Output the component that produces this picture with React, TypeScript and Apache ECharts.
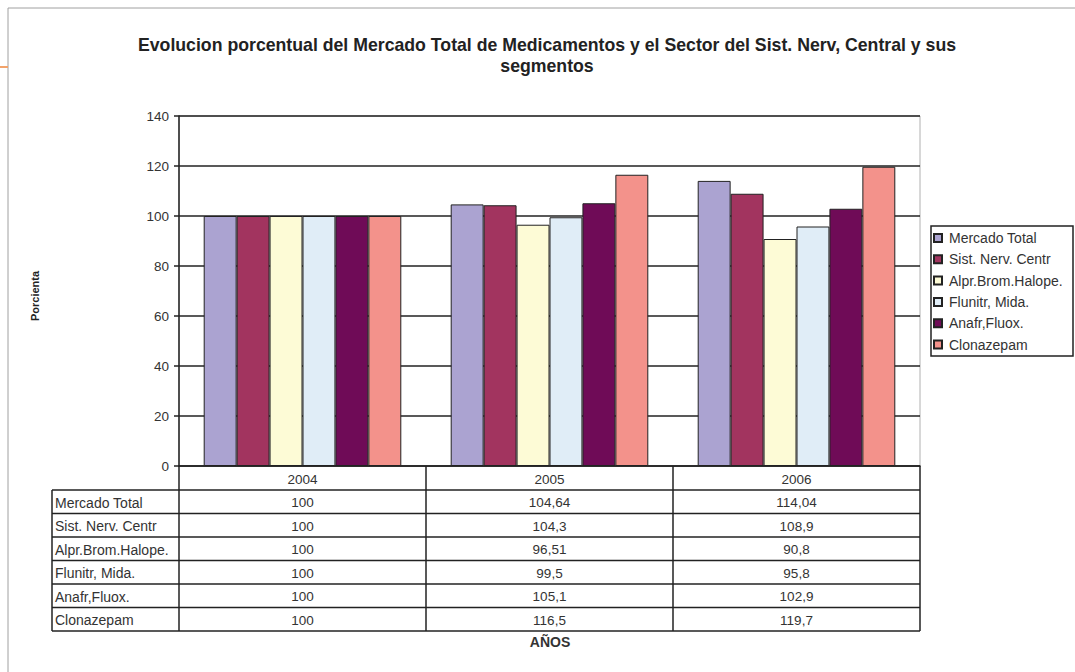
import React, { useEffect, useRef } from "react";
import * as echarts from "echarts";

const years = ["2004", "2005", "2006"];
const seriesNames = [
  "Mercado Total",
  "Sist. Nerv. Centr",
  "Alpr.Brom.Halope.",
  "Flunitr, Mida.",
  "Anafr,Fluox.",
  "Clonazepam",
];
const mercadoTotal = [100, 104.64, 114.04];
const sistNervCentr = [100, 104.3, 108.9];
const alprBromHalope = [100, 96.51, 90.8];
const flunitrMida = [100, 99.5, 95.8];
const anafrFluox = [100, 105.1, 102.9];
const clonazepam = [100, 116.5, 119.7];
const yTicks = [0, 20, 40, 60, 80, 100, 120, 140];

const seriesValues = [mercadoTotal, sistNervCentr, alprBromHalope, flunitrMida, anafrFluox, clonazepam];
const colors = ["#aba3d1", "#a2345f", "#fdfbd6", "#e0edf7", "#6f0b57", "#f3928b"];

const W = 1075;
const H = 672;
const gridLeft = 179;
const gridRight = 920;
const gridTop = 116;
const gridBottom = 466;
const tableLeft = 52;
const rowH = 23.5;
const headerBottom = 490;

const fmt = (v: number) => String(v).replace(".", ",");

export default function App() {
  const ref = useRef<HTMLDivElement>(null);

  useEffect(() => {
    const chart = echarts.init(ref.current!, null, { renderer: "svg" });
    const font = "Arial, 'Liberation Sans', sans-serif";
    const catW = (gridRight - gridLeft) / years.length;
    const tableBottom = headerBottom + rowH * seriesNames.length;
    const lineStyle = { stroke: "#222", lineWidth: 1.5 };

    const graphics: any[] = [];
    // page frame and accent
    graphics.push({ type: "line", shape: { x1: 8, y1: 8, x2: W, y2: 8 }, style: { stroke: "#a0a0a0", lineWidth: 1 } });
    graphics.push({ type: "line", shape: { x1: 8, y1: 8, x2: 8, y2: H }, style: { stroke: "#a0a0a0", lineWidth: 1 } });
    graphics.push({ type: "line", shape: { x1: 0, y1: 67, x2: 8, y2: 67 }, style: { stroke: "#f2a36b", lineWidth: 2 } });

    // y-axis name
    graphics.push({
      type: "text",
      x: 35,
      y: 296,
      rotation: Math.PI / 2,
      style: { text: "Porcienta", font: `bold 11px ${font}`, fill: "#222", align: "center", verticalAlign: "middle" },
    });

    // data table: horizontal rules
    for (let r = 0; r <= seriesNames.length; r++) {
      const y = headerBottom + r * rowH;
      graphics.push({ type: "line", shape: { x1: tableLeft, y1: y, x2: gridRight, y2: y }, style: lineStyle });
    }
    // vertical rules
    graphics.push({ type: "line", shape: { x1: tableLeft, y1: headerBottom, x2: tableLeft, y2: tableBottom }, style: lineStyle });
    for (let c = 0; c <= years.length; c++) {
      const x = gridLeft + c * catW;
      graphics.push({ type: "line", shape: { x1: x, y1: gridBottom, x2: x, y2: tableBottom }, style: lineStyle });
    }
    // header years
    years.forEach((yr, c) => {
      graphics.push({
        type: "text",
        x: gridLeft + (c + 0.5) * catW,
        y: (gridBottom + headerBottom) / 2 + 1,
        style: { text: yr, font: `13.5px ${font}`, fill: "#333", align: "center", verticalAlign: "middle" },
      });
    });
    // rows
    seriesNames.forEach((name, r) => {
      const yMid = headerBottom + (r + 0.5) * rowH + 1;
      graphics.push({
        type: "text",
        x: tableLeft + 3,
        y: yMid,
        style: { text: name, font: `14px ${font}`, fill: "#333", align: "left", verticalAlign: "middle" },
      });
      seriesValues[r].forEach((v, c) => {
        graphics.push({
          type: "text",
          x: gridLeft + (c + 0.5) * catW,
          y: yMid,
          style: { text: fmt(v), font: `13.5px ${font}`, fill: "#333", align: "center", verticalAlign: "middle" },
        });
      });
    });
    // axis title under table
    graphics.push({
      type: "text",
      x: 550,
      y: 642,
      style: { text: "AÑOS", font: `bold 14px ${font}`, fill: "#333", align: "center", verticalAlign: "middle" },
    });
    // legend frame
    graphics.push({
      type: "rect",
      shape: { x: 931, y: 226, width: 142, height: 130 },
      style: { fill: "#fff", stroke: "#222", lineWidth: 1.5 },
      z: -1,
    });

    chart.setOption({
      animation: false,
      backgroundColor: "#fff",
      title: {
        text: "Evolucion porcentual del Mercado Total de Medicamentos y el Sector del Sist. Nerv, Central y sus\nsegmentos",
        left: 542,
        top: 29.5,
        textAlign: "center",
        textStyle: { fontFamily: font, fontWeight: "bold", fontSize: 17.7, color: "#222", lineHeight: 21 },
      },
      legend: {
        orient: "vertical",
        left: 933,
        top: 231,
        padding: 0,
        itemWidth: 8,
        itemHeight: 8,
        itemGap: 7.3,
        icon: "rect",
        data: seriesNames,
        textStyle: { fontFamily: font, fontSize: 14, color: "#333", padding: [0, 0, 0, 2] },
        z: 5,
      },
      grid: {
        left: gridLeft,
        right: W - gridRight,
        top: gridTop,
        bottom: H - gridBottom,
        show: true,
        borderColor: "#b0b0b0",
        borderWidth: 1,
      },
      xAxis: {
        type: "category",
        data: years,
        axisLine: { lineStyle: { color: "#222", width: 1.5 } },
        axisTick: { show: false },
        axisLabel: { show: false },
      },
      yAxis: {
        type: "value",
        min: yTicks[0],
        max: yTicks[yTicks.length - 1],
        interval: 20,
        axisLine: { show: true, lineStyle: { color: "#222", width: 1.5 } },
        axisTick: { show: true, length: 5, lineStyle: { color: "#222", width: 1.5 } },
        axisLabel: { fontFamily: font, fontSize: 13.5, color: "#333", margin: 10 },
        splitLine: { lineStyle: { color: "#222", width: 1.5 } },
      },
      series: seriesNames.map((name, i) => ({
        name,
        type: "bar",
        data: seriesValues[i],
        barGap: "0%",
        barCategoryGap: "20%",
        itemStyle: { color: colors[i], borderColor: "#222", borderWidth: 1 },
      })),
      graphic: graphics,
    });
    return () => chart.dispose();
  }, []);

  return <div ref={ref} style={{ position: "fixed", left: 0, top: 0, width: W, height: H }} />;
}
